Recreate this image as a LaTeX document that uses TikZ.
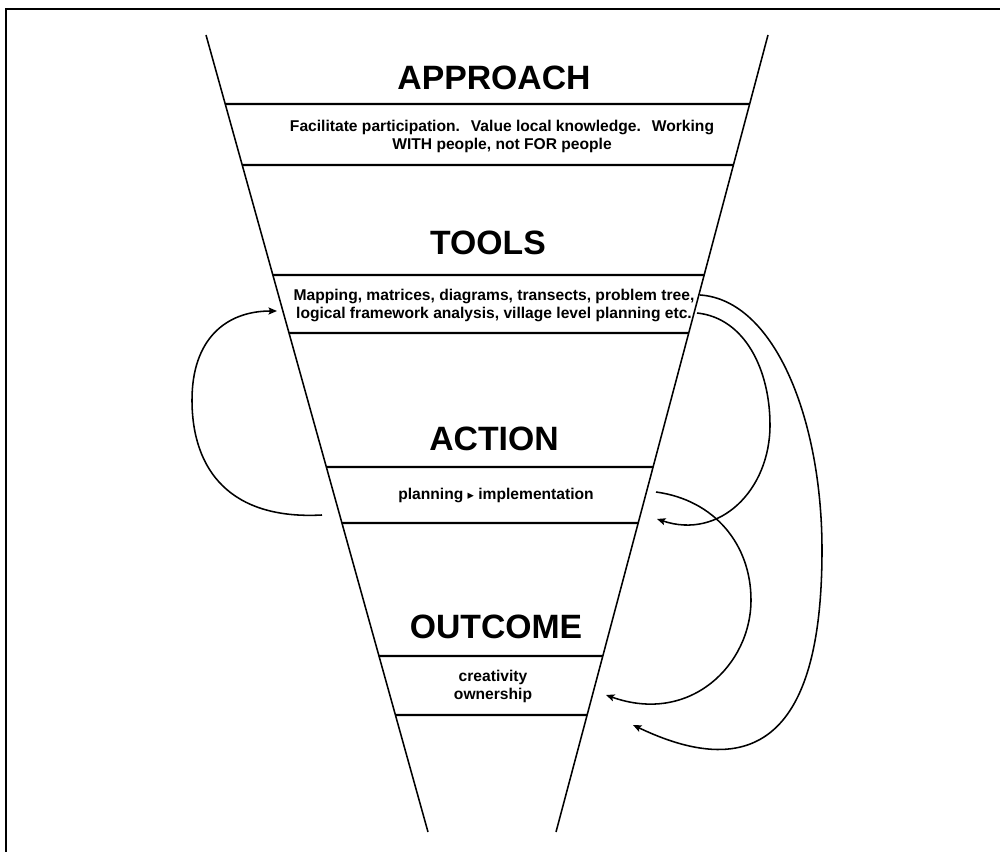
\documentclass[tikz,border=0pt]{standalone}
\usepackage{fontspec}
\setmainfont{Liberation Sans}
\newfontfamily\markfont{DejaVu Sans}
\usetikzlibrary{calc,arrows.meta}
\newcommand{\StageFont}{\bfseries\fontsize{24}{26}\selectfont}
\newcommand{\NoteFont}{\bfseries\fontsize{11.1}{12.8}\selectfont}

\begin{document}
\begin{tikzpicture}[x=0.025cm,y=-0.025cm,
  stage/.style={anchor=base,inner sep=0pt,font=\StageFont},
  note/.style={align=center,inner sep=0pt,font=\NoteFont},
  edge/.style={line width=1.1pt},
  bar/.style={line width=1.5pt},
  loop/.style={line width=1.1pt,-{Stealth[length=6pt,width=5pt,inset=1.2pt]}}]
\useasboundingbox (0,0) rectangle (1000,852);
% frame, top and left only
\draw[line width=1.8pt] (6,852) -- (6,9) -- (1000,9);
% funnel sides and the bands across it
\coordinate (lt) at (206,35); \coordinate (lb) at (428,832);
\coordinate (rt) at (768,35); \coordinate (rb) at (556,832);
\draw[edge] (lt) -- (lb);
\draw[edge] (rt) -- (rb);
\foreach \y in {104,165,275,333,467,523,656,715}
  \draw[bar] (intersection of lt--lb and 0,\y--1000,\y) -- (intersection of rt--rb and 0,\y--1000,\y);
% stages
\node[stage] (approach) at (494,90) {APPROACH};
\node[note] (approachTxt) at (502,136) {Facilitate participation.\hspace{0.7em}Value local knowledge.\hspace{0.7em}Working\\WITH people, not FOR people};
\node[stage] (tools) at (488,255) {TOOLS};
\node[note] (toolsTxt) at (494,306) {Mapping, matrices, diagrams, transects, problem tree,\\logical framework analysis, village level planning etc.};
\node[stage] (action) at (494,451) {ACTION};
\node[note] (actionTxt) at (496,495) {planning {\markfont\small ▸} implementation};
\node[stage] (outcome) at (496,638) {OUTCOME};
\node[note] (outcomeTxt) at (493,686) {creativity\\ownership};
% feedback loops
\coordinate (actL) at (322,515);
\coordinate (toolsL) at (277,311);
\coordinate (toolsR1) at (700,295);
\coordinate (toolsR2) at (697,313);
\coordinate (actR) at (656,492);
\coordinate (actIn) at (657,519);
\coordinate (outIn) at (606,695);
\coordinate (outBelow) at (633,725);
\draw[loop] (actL) .. controls (230,520) and (192,470) .. (192,400) .. controls (192,340) and (225,311) .. (toolsL);
\draw[loop] (toolsR2) .. controls (745,318) and (770,370) .. (770,425) .. controls (770,490) and (720,540) .. (actIn);
\draw[loop] (actR) .. controls (715,500) and (751,545) .. (751,600) .. controls (751,665) and (690,725) .. (outIn);
\draw[loop] (toolsR1) .. controls (775,300) and (822,420) .. (822,550) .. controls (822,680) and (790,800) .. (outBelow);
\end{tikzpicture}
\end{document}
